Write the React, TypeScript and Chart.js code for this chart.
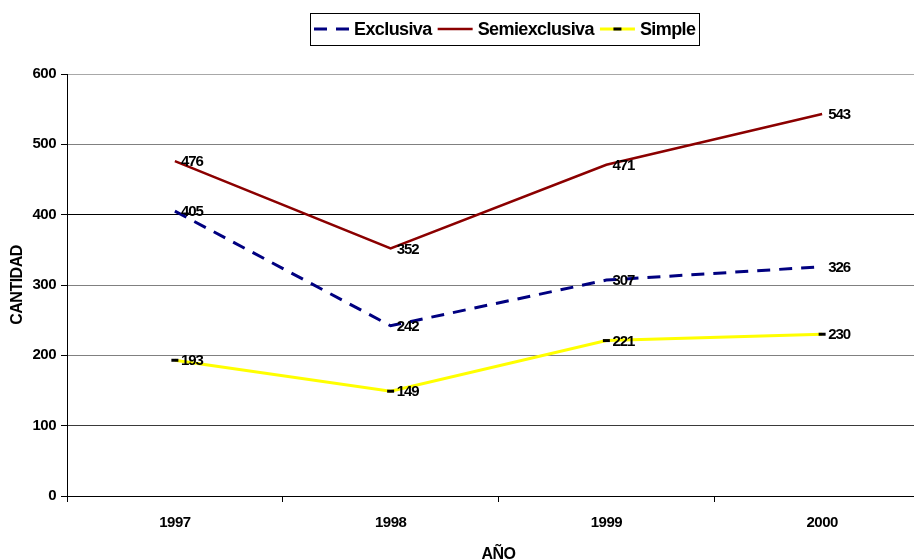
import React, { useEffect, useRef } from 'react';
import { Chart, registerables } from 'chart.js';

Chart.register(...registerables);

const categories = ['1997', '1998', '1999', '2000'];
const exclusiva = [405, 242, 307, 326];
const semiexclusiva = [476, 352, 471, 543];
const simple = [193, 149, 221, 230];
const yTicks = [0, 100, 200, 300, 400, 500, 600];
const seriesNames = ['Exclusiva', 'Semiexclusiva', 'Simple'];
const xTitle = 'AÑO';
const yTitle = 'CANTIDAD';

const FONT = '"Liberation Sans", Arial, Helvetica, sans-serif';

const tightText = {
  id: 'tightText',
  beforeLayout(chart: any) {
    (chart.ctx as any).letterSpacing = '-0.5px';
  },
  beforeDraw(chart: any) {
    (chart.ctx as any).letterSpacing = '-0.5px';
  },
};

const boxedLegend = {
  id: 'boxedLegend',
  afterDraw(chart: any) {
    const ctx = chart.ctx as any;
    ctx.save();
    ctx.font = `bold 18px ${FONT}`;
    ctx.letterSpacing = '-0.6px';
    const sample = 35;
    const gapAfterSample = 5;
    const gapAfterText = 6;
    const padX = 4;
    const items = chart.data.datasets.map((ds: any) => ({ ds, w: ctx.measureText(ds.label).width }));
    const total =
      padX * 2 +
      items.reduce((s: number, it: any) => s + sample + gapAfterSample + it.w, 0) +
      gapAfterText * (items.length - 1);
    const ca = chart.chartArea;
    const left = Math.round((ca.left + ca.right) / 2 + 6 - total / 2);
    const top = 13;
    const h = 32;
    const cy = top + h / 2;
    ctx.strokeStyle = '#000';
    ctx.lineWidth = 1;
    ctx.setLineDash([]);
    ctx.strokeRect(left + 0.5, top + 0.5, Math.round(total), h);
    let x = left + padX;
    items.forEach((it: any) => {
      const ds = it.ds;
      ctx.save();
      ctx.beginPath();
      ctx.setLineDash(ds.borderDash || []);
      ctx.lineWidth = ds.borderWidth;
      ctx.strokeStyle = ds.borderColor;
      ctx.moveTo(x, cy);
      ctx.lineTo(x + sample, cy);
      ctx.stroke();
      if (ds.pointRadius > 0) {
        ctx.setLineDash([]);
        ctx.beginPath();
        ctx.strokeStyle = '#000';
        ctx.lineWidth = 3;
        ctx.moveTo(x + sample / 2 - 4, cy);
        ctx.lineTo(x + sample / 2 + 4, cy);
        ctx.stroke();
      }
      ctx.restore();
      ctx.fillStyle = '#000';
      ctx.textBaseline = 'middle';
      ctx.textAlign = 'left';
      ctx.fillText(ds.label, x + sample + gapAfterSample, cy + 1);
      x += sample + gapAfterSample + it.w + gapAfterText;
    });
    ctx.restore();
  },
};

const pointLabels = {
  id: 'pointLabels',
  afterDatasetsDraw(chart: any) {
    const ctx = chart.ctx as any;
    ctx.save();
    ctx.font = `bold 15px ${FONT}`;
    ctx.letterSpacing = '-1px';
    ctx.fillStyle = '#000';
    ctx.textBaseline = 'middle';
    ctx.textAlign = 'left';
    chart.data.datasets.forEach((ds: any, i: number) => {
      const meta = chart.getDatasetMeta(i);
      meta.data.forEach((pt: any, j: number) => {
        ctx.fillText(String(ds.data[j]), pt.x + 6, pt.y + 1);
      });
    });
    ctx.restore();
  },
};

export default function App() {
  const ref = useRef<HTMLCanvasElement | null>(null);
  useEffect(() => {
    if (!ref.current) return;
    Chart.defaults.font.family = FONT;
    const chart = new Chart(ref.current, {
      type: 'line',
      data: {
        labels: categories,
        datasets: [
          {
            label: seriesNames[0],
            data: exclusiva,
            borderColor: '#000080',
            borderWidth: 3,
            borderDash: [13, 9],
            pointRadius: 0,
            fill: false,
            tension: 0,
          },
          {
            label: seriesNames[1],
            data: semiexclusiva,
            borderColor: '#8B0000',
            borderWidth: 2.5,
            pointRadius: 0,
            fill: false,
            tension: 0,
          },
          {
            label: seriesNames[2],
            data: simple,
            borderColor: '#FFFF00',
            borderWidth: 3,
            pointRadius: 3.5,
            pointStyle: 'line',
            pointBorderColor: '#000',
            pointBorderWidth: 3,
            pointBackgroundColor: '#000',
            fill: false,
            tension: 0,
          },
        ] as any,
      },
      options: {
        animation: false,
        responsive: false,
        devicePixelRatio: 1,
        layout: { autoPadding: false, padding: { top: 74, left: 0, right: 0, bottom: 0 } },
        plugins: {
          legend: { display: false },
          tooltip: { enabled: false },
          title: { display: false },
        },
        scales: {
          x: {
            type: 'category',
            offset: true,
            grid: {
              drawOnChartArea: false,
              drawTicks: true,
              tickLength: 6,
              offset: true,
              color: '#000',
              tickColor: '#000',
            },
            border: { color: '#000', width: 1 },
            ticks: {
              color: '#000',
              font: { size: 15, weight: 'bold' },
              padding: 12,
              maxRotation: 0,
              autoSkip: false,
            },
            title: {
              display: true,
              text: xTitle,
              color: '#000',
              font: { size: 16, weight: 'bold', lineHeight: 1 },
              padding: { top: 0, bottom: -3 },
            },
            afterFit(scale: any) {
              scale.height = 64;
              scale.paddingLeft = 0;
              scale.paddingRight = 0;
            },
          },
          y: {
            min: 0,
            max: 600,
            afterBuildTicks(scale: any) {
              scale.ticks = yTicks.map((v) => ({ value: v }));
            },
            ticks: {
              color: '#000',
              font: { size: 15, weight: 'bold' },
              padding: 5,
            },
            grid: {
              color: (c: any) => {
                const v = c.tick && c.tick.value;
                if (v === 400 || v === 0) return '#000';
                if (v === 600) return '#a8a8a8';
                if (v === 100) return '#3a3a3a';
                return '#808080';
              },
              tickColor: '#000',
              tickLength: 6,
              lineWidth: 1,
            },
            border: { color: '#000', width: 1 },
            title: {
              display: true,
              text: yTitle,
              color: '#000',
              font: { size: 16, weight: 'bold', lineHeight: 1.2 },
              padding: { top: 8, bottom: 0 },
            },
            afterFit(scale: any) {
              scale.width = 67;
            },
          },
        },
      } as any,
      plugins: [tightText, pointLabels, boxedLegend],
    });
    return () => chart.destroy();
  }, []);

  return (
    <div
      style={{
        position: 'fixed',
        left: 0,
        top: 0,
        width: 914,
        height: 560,
        overflow: 'hidden',
        background: '#fff',
      }}
    >
      <div style={{ position: 'relative', width: 930, height: 560 }}>
        <canvas ref={ref} width={930} height={560} style={{ display: 'block', width: 930, height: 560 }} />
      </div>
    </div>
  );
}
